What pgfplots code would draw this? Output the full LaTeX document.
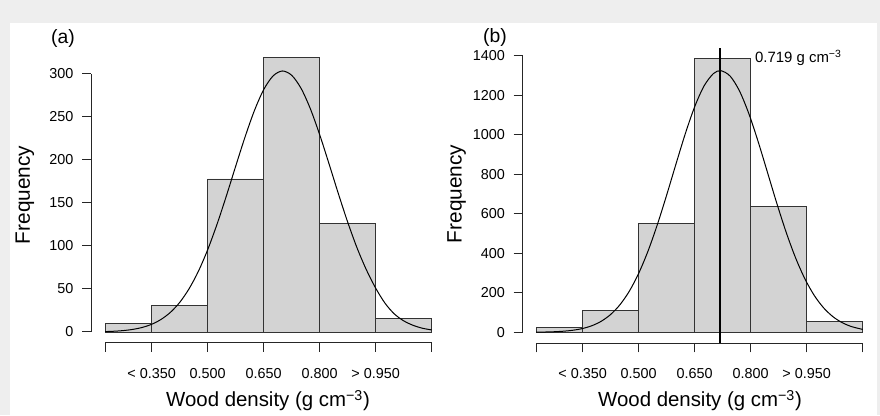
\documentclass[border=0pt]{standalone}
\usepackage{fontspec}
\setmainfont{Liberation Sans}
\usepackage{pgfplots}
\pgfplotsset{compat=1.18}
\definecolor{bg}{RGB}{238,238,238}
\definecolor{barfill}{RGB}{211,211,211}
\pgfplotsset{
  rhist/.style={
    scale only axis, clip=false,
    axis x line*=bottom, axis y line*=left,
    axis line style={black!85, line width=0.75pt},
    x axis line style={shorten <=10.5pt},
    y axis line style={shorten <=8.25pt},
    tick style={black!85, line width=0.75pt},
    tick align=outside, major tick length=6.75pt,
    xtick={0.225,0.35,0.5,0.65,0.8,0.95,1.1},
    xticklabels={,< 0.350,0.500,0.650,0.800,> 0.950,},
    tick label style={font=\fontsize{10.8}{12}\selectfont},
    xticklabel style={yshift=-8.5pt},
    yticklabel style={xshift=-3pt},
    /pgf/number format/assume math mode=true,
    /pgf/number format/1000 sep={},
    xmax=1.1,
  },
  bars/.style={ybar, bar shift=0pt, fill=barfill, draw=black!80, line width=0.6pt},
  dens/.style={black, line width=0.75pt, smooth},
}
\begin{document}
\begin{tikzpicture}[x=0.75pt, y=0.75pt]
\fill[bg] (0,0) rectangle (880,415);
\fill[white] (10,0) rectangle (877,392);

% (a)
\begin{axis}[rhist, at={(68.25pt,54pt)}, anchor=south west,
  width=255.5pt, height=201.75pt,
  xmin=0.1874, ymin=-12.79, ymax=300,
  ytick={0,50,...,300}]
\addplot[bars, bar width=0.125] coordinates {(0.2875,10)};
\addplot[bars, bar width=0.15] coordinates {(0.425,31) (0.575,178) (0.725,319) (0.875,126) (1.025,16)};
\addplot[dens] coordinates {
  (0.225,0.47) (0.25,0.91) (0.275,1.70) (0.30,3.07) (0.325,5.35) (0.35,8.98)
  (0.375,14.6) (0.40,22.8) (0.425,34.4) (0.45,50.2) (0.475,70.5) (0.50,95.7)
  (0.525,125.3) (0.55,158.2) (0.575,192.8) (0.60,226.7) (0.625,257.3) (0.65,281.8)
  (0.675,297.7) (0.70,303.5) (0.725,298.5) (0.75,283.4) (0.775,259.6) (0.80,229.4)
  (0.825,195.6) (0.85,160.9) (0.875,127.8) (0.90,97.9) (0.925,72.4) (0.95,51)
  (0.975,33.5) (1.00,21) (1.025,13) (1.05,7.8) (1.075,4.4) (1.10,2.4)};
\end{axis}

% (b)
\begin{axis}[rhist, at={(392.03pt,53.78pt)}, anchor=south west,
  width=255pt, height=215.7pt,
  xmin=0.1893, ymin=-55.68, ymax=1400,
  ytick={0,200,...,1400}]
\addplot[bars, bar width=0.125] coordinates {(0.2875,25)};
\addplot[bars, bar width=0.15] coordinates {(0.425,111) (0.575,553) (0.725,1388) (0.875,638) (1.025,54)};
\addplot[dens] coordinates {
  (0.225,0.68) (0.25,1.43) (0.275,2.90) (0.30,5.67) (0.325,10.7) (0.35,19.3)
  (0.375,33.6) (0.40,56.2) (0.425,90.4) (0.45,140.0) (0.475,208.4) (0.50,298.6)
  (0.525,411.4) (0.55,545.4) (0.575,695.4) (0.60,852.9) (0.625,1006.3) (0.65,1142.1)
  (0.675,1246.8) (0.70,1309.3) (0.72,1324) (0.745,1296.5) (0.77,1221.3) (0.795,1106.6)
  (0.82,964.5) (0.845,808.7) (0.87,652.2) (0.895,505.9) (0.92,377.6) (0.945,271.0)
  (0.97,187.1) (0.995,124.3) (1.02,79.4) (1.045,48.8) (1.07,28.9) (1.10,14.6)};
\addplot[black, line width=1.5pt] coordinates {(0.719,-55.68) (0.719,1440)};
\node[anchor=west, inner sep=0pt, font=\fontsize{11.2}{13}\selectfont] at (axis cs:0.811,1390) {0.719 g cm\textsuperscript{−3}};
\end{axis}

% titles and labels
\node[font=\fontsize{14.5}{17}\selectfont] at (63,376) {(a)};
\node[font=\fontsize{14.5}{17}\selectfont] at (495,377) {(b)};
\node[rotate=90, font=\fontsize{15.6}{18}\selectfont] at (25,220) {Frequency};
\node[rotate=90, font=\fontsize{15.6}{18}\selectfont] at (456.7,221) {Frequency};
\node[anchor=base, font=\fontsize{15.3}{18}\selectfont] at (268,8) {Wood density (g cm\textsuperscript{−3})};
\node[anchor=base, font=\fontsize{15.3}{18}\selectfont] at (700,8) {Wood density (g cm\textsuperscript{−3})};
\end{tikzpicture}
\end{document}
